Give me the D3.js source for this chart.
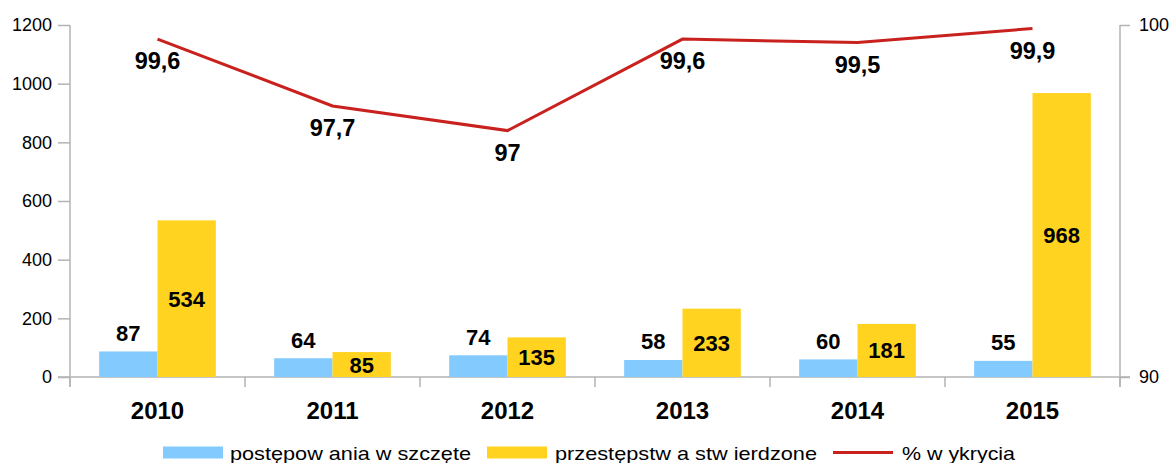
<!DOCTYPE html>
<html><head><meta charset="utf-8">
<script src="https://cdn.jsdelivr.net/npm/d3@7"></script>
<style>body{margin:0;background:#fff}svg{display:block;font-family:"Liberation Sans",Arial,sans-serif}</style>
</head><body><svg id="c" width="1173" height="463"></svg>
<script>
const years = ["2010","2011","2012","2013","2014","2015"];
const wszczete = [87,64,74,58,60,55];
const stwierdzone = [534,85,135,233,181,968];
const wykrycia = [99.6,97.7,97,99.6,99.5,99.9];
const wykryciaLabels = ["99,6","97,7","97","99,6","99,5","99,9"];
const leftTicks = [0,200,400,600,800,1000,1200];
const rightTicks = [90,100];
const seriesNames = ["postępow ania w szczęte","przestępstw a stw ierdzone","% w ykrycia"];
const colors = {blue:"#83CAFF", yellow:"#FFD320", red:"#C9211E", axis:"#b3b3b3"};

const svg = d3.select("#c");
const L=70, R=1120, T=25, B=377;
const x = d3.scaleBand().domain(years).range([L,R]);
const y = d3.scaleLinear().domain([0,1200]).range([B,T]);
const y2 = d3.scaleLinear().domain([90,100]).range([B,T]);
const bw = x.bandwidth()/3;

// axes
const gl = svg.append("g").attr("transform",`translate(${L},0)`).call(d3.axisLeft(y).tickValues(leftTicks).tickSize(12).tickPadding(6).tickFormat(d3.format("d")));
const gr = svg.append("g").attr("transform",`translate(${R},0)`).call(d3.axisRight(y2).tickValues(rightTicks).tickSize(10).tickPadding(9));
[gl,gr].forEach(g=>{
  g.select(".domain").attr("stroke",colors.axis).attr("stroke-width",1.5).attr("d",`M0,${T}V${B+10}`);
  g.selectAll(".tick line").attr("stroke",colors.axis).attr("stroke-width",1.5);
  g.selectAll("text").attr("font-size",18).attr("fill","#000").attr("font-family","Liberation Sans, Arial, sans-serif");
});
// x axis
svg.append("line").attr("x1",L-12).attr("x2",R+10).attr("y1",B).attr("y2",B).attr("stroke",colors.axis).attr("stroke-width",1.5);
svg.append("g").selectAll("line").data(years.concat(["end"])).join("line")
  .attr("x1",(d,i)=>L+i*x.step()).attr("x2",(d,i)=>L+i*x.step())
  .attr("y1",B).attr("y2",B+10).attr("stroke",colors.axis).attr("stroke-width",1.5);
svg.append("g").selectAll("text").data(years).join("text")
  .attr("x",d=>x(d)+x.bandwidth()/2).attr("y",418.5).attr("text-anchor","middle")
  .attr("font-size",24).attr("font-weight","bold").text(d=>d);

// bars
svg.append("g").selectAll("rect").data(wszczete).join("rect")
  .attr("x",(d,i)=>x(years[i])+bw/2).attr("width",bw).attr("y",d=>y(d)).attr("height",d=>B-y(d)).attr("fill",colors.blue);
svg.append("g").selectAll("rect").data(stwierdzone).join("rect")
  .attr("x",(d,i)=>x(years[i])+bw*1.5).attr("width",bw).attr("y",d=>y(d)).attr("height",d=>B-y(d)).attr("fill",colors.yellow);
// bar labels
svg.append("g").selectAll("text").data(wszczete).join("text")
  .attr("x",(d,i)=>x(years[i])+bw).attr("y",d=>y(d)-10.5).attr("text-anchor","middle")
  .attr("font-size",22).attr("font-weight","bold").text(d=>d);
svg.append("g").selectAll("text").data(stwierdzone).join("text")
  .attr("x",(d,i)=>x(years[i])+bw*2).attr("y",d=>(y(d)+B)/2+8).attr("text-anchor","middle")
  .attr("font-size",22).attr("font-weight","bold").text(d=>d);

// line
const cx = (i)=>x(years[i])+x.bandwidth()/2;
svg.append("path").datum(wykrycia).attr("fill","none").attr("stroke",colors.red).attr("stroke-width",3)
  .attr("d",d3.line().x((d,i)=>cx(i)).y(d=>y2(d)));
svg.append("g").selectAll("text").data(wykrycia).join("text")
  .attr("x",(d,i)=>cx(i)).attr("y",d=>y2(d)+30).attr("text-anchor","middle")
  .attr("font-size",23.5).attr("font-weight","bold").text((d,i)=>wykryciaLabels[i]);

// legend
const lg = svg.append("g").attr("font-size",19);
lg.append("rect").attr("x",163).attr("y",446.5).attr("width",60).attr("height",12).attr("fill",colors.blue);
lg.append("text").attr("x",230).attr("y",459.5).attr("textLength",241).attr("lengthAdjust","spacingAndGlyphs").text(seriesNames[0]);
lg.append("rect").attr("x",487).attr("y",446.5).attr("width",60).attr("height",12).attr("fill",colors.yellow);
lg.append("text").attr("x",555).attr("y",459.5).attr("textLength",262).attr("lengthAdjust","spacingAndGlyphs").text(seriesNames[1]);
lg.append("line").attr("x1",833).attr("x2",893).attr("y1",452.5).attr("y2",452.5).attr("stroke",colors.red).attr("stroke-width",3);
lg.append("text").attr("x",902).attr("y",459.5).attr("textLength",113).attr("lengthAdjust","spacingAndGlyphs").text(seriesNames[2]);
</script></body></html>
